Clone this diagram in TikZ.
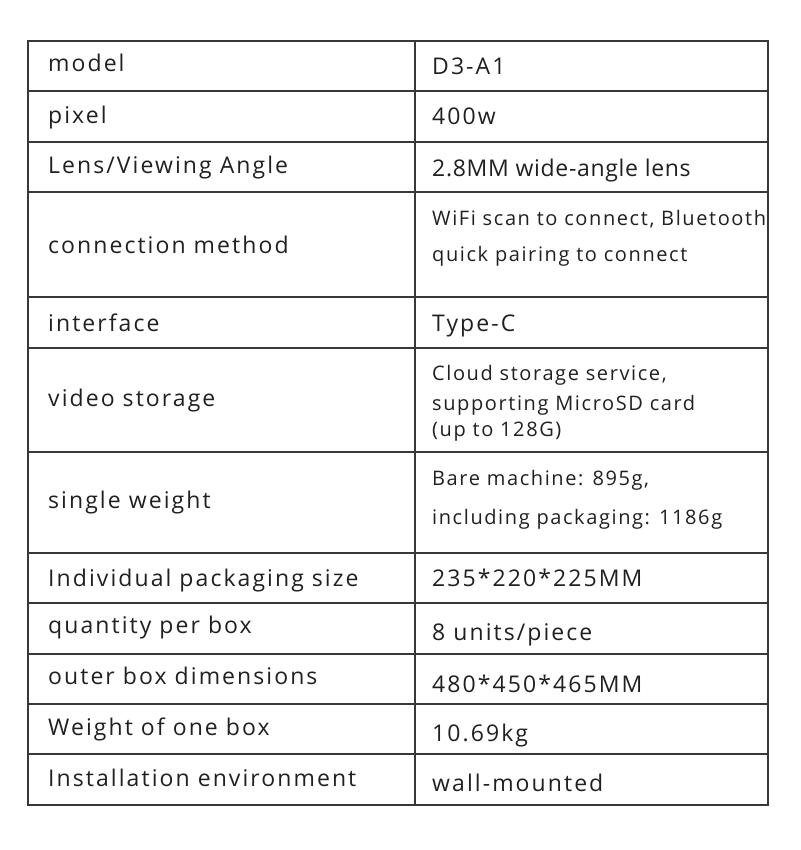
\documentclass[tikz,border=0pt]{standalone}
\usepackage{fontspec}
\setmainfont{Open Sans}[LetterSpace=9,Ligatures=NoCommon]
\newfontfamily\cellsmall{Open Sans}[LetterSpace=8,Ligatures=NoCommon]
\newfontfamily\celltight{Open Sans}[LetterSpace=3,Ligatures=NoCommon]
\definecolor{gridc}{HTML}{383838}
\definecolor{txtc}{HTML}{202020}
\begin{document}
\begin{tikzpicture}[x=1pt,y=-1pt,
  grid/.style={draw=gridc,line width=1.8pt},
  lab/.style={anchor=base west,inner sep=0pt,text=txtc,font=\fontsize{23}{27}\selectfont},
  val/.style={anchor=base west,inner sep=0pt,text=txtc,font=\fontsize{23}{27}\selectfont},
  tval/.style={anchor=base west,inner sep=0pt,text=txtc,font=\celltight\fontsize{23}{27}\selectfont},
  sval/.style={anchor=base west,inner sep=0pt,text=txtc,font=\cellsmall\fontsize{20}{24}\selectfont}]
\useasboundingbox (0,0) rectangle (800,850);
% grid
\draw[grid] (28,41) rectangle (768,805);
\draw[grid] (415,41) -- (415,805);
\foreach \y in {91,142,192,297,348,452,553,603,654,704,754}
  \draw[grid] (28,\y) -- (768,\y);
% left column
\node[lab] (l1) at (48,71.7) {model};
\node[lab] (l2) at (48,124) {pixel};
\node[lab] (l3) at (48,173.3) {Lens/Viewing Angle};
\node[lab] (l4) at (48,253.3) {connection method};
\node[lab] (l5) at (48,331) {interface};
\node[lab] (l6) at (48,406) {video storage};
\node[lab] (l7) at (48,508.3) {single weight};
\node[lab] (l8) at (48,586.7) {Individual packaging size};
\node[lab] (l9) at (48,633) {quantity per box};
\node[lab] (l10) at (48,684.3) {outer box dimensions};
\node[lab] (l11) at (48,735) {Weight of one box};
\node[lab] (l12) at (48,786.7) {Installation environment};
% right column
\node[val] (r1) at (432,75) {D3-A1};
\node[val] (r2) at (432,124.3) {400w};
\node[tval] (r3) at (432,176.7) {2.8MM wide-angle lens};
\node[sval] (r4a) at (432,225.7) {WiFi scan to connect, Bluetooth};
\node[sval] (r4b) at (432,261.7) {quick pairing to connect};
\node[val] (r5) at (432,331.7) {Type-C};
\node[sval] (r6a) at (432,380) {Cloud storage service,};
\node[sval] (r6b) at (432,410) {supporting MicroSD card};
\node[sval] (r6c) at (432,436.7) {(up to 128G)};
\node[sval] (r7a) at (432,485.7) {Bare machine: 895g,};
\node[sval] (r7b) at (432,524) {including packaging: 1186g};
\node[val] (r8) at (432,586.7) {235*220*225MM};
\node[val] (r9) at (432,640) {8 units/piece};
\node[val] (r10) at (432,692.3) {480*450*465MM};
\node[val] (r11) at (432,741.7) {10.69kg};
\node[val] (r12) at (432,791.7) {wall-mounted};
\end{tikzpicture}
\end{document}
